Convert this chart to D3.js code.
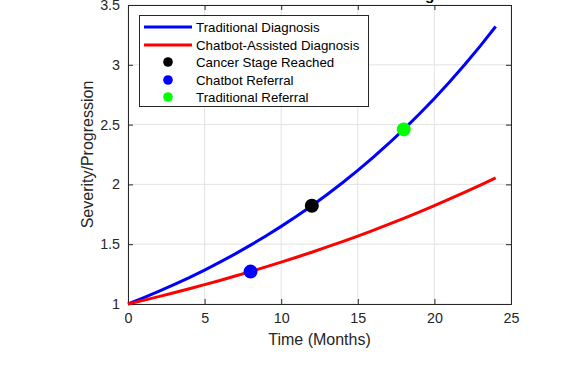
<!DOCTYPE html>
<html><head><meta charset="utf-8">
<script src="https://cdn.jsdelivr.net/npm/d3@7"></script>
<style>body{margin:0;background:#fff}svg{display:block}text{font-family:"Liberation Sans",Arial,sans-serif}</style>
</head><body><svg id="c" width="563" height="369"></svg>
<script>
const months = [0,1,2,3,4,5,6,7,8,9,10,11,12,13,14,15,16,17,18,19,20,21,22,23,24];
const traditional = [1.000,1.051,1.105,1.162,1.221,1.284,1.350,1.419,1.492,1.568,1.649,1.733,1.822,1.916,2.014,2.117,2.226,2.340,2.460,2.586,2.718,2.858,3.004,3.158,3.320];
const chatbot = [1.000,1.030,1.062,1.094,1.127,1.162,1.197,1.234,1.271,1.310,1.350,1.391,1.433,1.477,1.522,1.568,1.616,1.665,1.716,1.768,1.822,1.878,1.935,1.994,2.054];
const markerNames = ["Cancer Stage Reached","Chatbot Referral","Traditional Referral"];
const markerX = [12, 8, 18];
const markerY = [1.822, 1.271, 2.460];
const markerColors = ["#000000","#0000ff","#00ff00"];
const lineNames = ["Traditional Diagnosis","Chatbot-Assisted Diagnosis"];
const lineColors = ["#0000ff","#ff0000"];
const xTicks = [0,5,10,15,20,25];
const yTicks = [1,1.5,2,2.5,3,3.5];
const title = "Traditional vs Chatbot-Assisted Diagnosis";

const svg = d3.select("#c");
const L=128,R=511,T=5,B=304;
const x = d3.scaleLinear().domain([0,25]).range([L,R]);
const y = d3.scaleLinear().domain([1,3.5]).range([B,T]);
const tc="#262626";

// grid
svg.append("g").selectAll("line").data(xTicks).join("line")
 .attr("x1",d=>x(d)).attr("x2",d=>x(d)).attr("y1",T).attr("y2",B)
 .attr("stroke","#e3e3e3").attr("stroke-width",1);
svg.append("g").selectAll("line").data(yTicks).join("line")
 .attr("y1",d=>y(d)).attr("y2",d=>y(d)).attr("x1",L).attr("x2",R)
 .attr("stroke","#e3e3e3").attr("stroke-width",1);

// axes
const xa = svg.append("g").attr("transform",`translate(0,${B})`)
 .call(d3.axisBottom(x).tickValues(xTicks).tickSize(-5).tickPadding(9).tickFormat(d3.format("")));
const xt = svg.append("g").attr("transform",`translate(0,${T})`)
 .call(d3.axisTop(x).tickValues(xTicks).tickSize(-5).tickFormat(""));
const ya = svg.append("g").attr("transform",`translate(${L},0)`)
 .call(d3.axisLeft(y).tickValues(yTicks).tickSize(-5).tickPadding(8).tickFormat(d3.format("")));
const yr = svg.append("g").attr("transform",`translate(${R},0)`)
 .call(d3.axisRight(y).tickValues(yTicks).tickSize(-5).tickFormat(""));
[xa,xt,ya,yr].forEach(g=>{
  g.selectAll("path").attr("stroke",tc).attr("stroke-width",1);
  g.selectAll("line").attr("stroke",tc);
  g.selectAll("text").attr("fill",tc).attr("font-size",14.3).attr("font-family","Liberation Sans, Arial, sans-serif");
});

// lines
const line = d3.line().x((d,i)=>x(months[i])).y(d=>y(d));
[traditional,chatbot].forEach((s,k)=>{
  svg.append("path").datum(s).attr("d",line).attr("fill","none")
   .attr("stroke",lineColors[k]).attr("stroke-width",3);
});
// markers
svg.append("g").selectAll("circle").data(markerX).join("circle")
 .attr("cx",d=>x(d)).attr("cy",(d,i)=>y(markerY[i])).attr("r",7)
 .attr("fill",(d,i)=>markerColors[i]);

// labels
svg.append("text").attr("x",(L+R)/2).attr("y",345).attr("text-anchor","middle")
 .attr("font-size",16).attr("fill",tc).text("Time (Months)");
svg.append("text").attr("transform",`translate(93,${(T+B)/2}) rotate(-90)`).attr("text-anchor","middle")
 .attr("font-size",16).attr("fill",tc).text("Severity/Progression");
svg.append("text").attr("x",(L+R)/2).attr("y",-0.5).attr("text-anchor","middle")
 .attr("font-size",15.5).attr("font-weight","bold").attr("fill","#000").text(title);

// legend
const lg = svg.append("g");
lg.append("rect").attr("x",139.5).attr("y",15.5).attr("width",229).attr("height",91)
 .attr("fill","#fff").attr("stroke","#262626").attr("stroke-width",1);
const rows=[27,45,62,80,97];
lineNames.forEach((n,i)=>{
  lg.append("line").attr("x1",144).attr("x2",192).attr("y1",rows[i]).attr("y2",rows[i])
   .attr("stroke",lineColors[i]).attr("stroke-width",3);
  lg.append("text").attr("x",196).attr("y",rows[i]+4.5).attr("font-size",13.3).attr("fill","#000").text(n);
});
markerNames.forEach((n,i)=>{
  lg.append("circle").attr("cx",168).attr("cy",rows[i+2]).attr("r",4.8).attr("fill",markerColors[i]);
  lg.append("text").attr("x",196).attr("y",rows[i+2]+4.5).attr("font-size",13.3).attr("fill","#000").text(n);
});
</script></body></html>
